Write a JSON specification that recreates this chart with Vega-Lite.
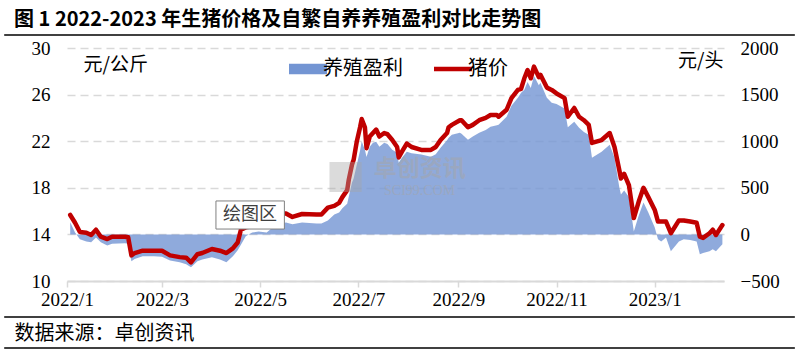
{
  "$schema": "https://vega.github.io/schema/vega-lite/v6.json",
  "width": 657,
  "height": 233,
  "autosize": "none",
  "padding": {"left": 67, "top": 48, "right": 74, "bottom": 74},
  "background": "white",
  "title": {"text": "图 1 2022-2023 年生猪价格及自繁自养养殖盈利对比走势图", "anchor": "start", "frame": "group", "dx": -53, "offset": 4, "fontSize": 20, "fontWeight": "bold", "font": "Noto Sans CJK SC", "color": "#000"},
  "config": {"view": {"stroke": null}},
  "data": {"values": [
    {"d":"2022-01-03","p":15.67,"m":130},{"d":"2022-01-06","p":15.0,"m":20},{"d":"2022-01-09","p":14.2,"m":-53},{"d":"2022-01-13","p":14.15,"m":-75},{"d":"2022-01-16","p":13.95,"m":-85},{"d":"2022-01-19","p":14.4,"m":-32},{"d":"2022-01-22","p":13.8,"m":-85},{"d":"2022-01-26","p":13.6,"m":-118},{"d":"2022-01-29","p":13.8,"m":-100},{"d":"2022-02-06","p":13.8,"m":-96},{"d":"2022-02-08","p":13.75,"m":-100},{"d":"2022-02-10","p":12.2,"m":-289},{"d":"2022-02-12","p":12.4,"m":-265},{"d":"2022-02-17","p":12.6,"m":-235},{"d":"2022-02-24","p":12.6,"m":-235},
    {"d":"2022-03-01","p":12.6,"m":-240},{"d":"2022-03-06","p":12.2,"m":-280},{"d":"2022-03-12","p":12.05,"m":-300},{"d":"2022-03-16","p":12.0,"m":-321},{"d":"2022-03-19","p":11.6,"m":-353},{"d":"2022-03-23","p":12.3,"m":-289},{"d":"2022-03-26","p":12.4,"m":-270},{"d":"2022-04-01","p":12.75,"m":-246},{"d":"2022-04-06","p":12.6,"m":-270},{"d":"2022-04-10","p":12.4,"m":-300},{"d":"2022-04-14","p":12.8,"m":-235},{"d":"2022-04-17","p":13.3,"m":-170},{"d":"2022-04-19","p":14.4,"m":-110},{"d":"2022-04-22","p":14.6,"m":-21},{"d":"2022-04-26","p":14.7,"m":21},{"d":"2022-04-30","p":14.9,"m":30},
    {"d":"2022-05-05","p":15.2,"m":21},{"d":"2022-05-11","p":15.8,"m":107},{"d":"2022-05-17","p":15.8,"m":128},{"d":"2022-05-21","p":15.5,"m":110},{"d":"2022-05-27","p":15.75,"m":128},{"d":"2022-06-05","p":15.7,"m":118},{"d":"2022-06-08","p":15.7,"m":118},{"d":"2022-06-12","p":16.3,"m":150},{"d":"2022-06-16","p":16.45,"m":214},{"d":"2022-06-19","p":16.7,"m":235},{"d":"2022-06-21","p":17.2,"m":280},{"d":"2022-06-24","p":17.8,"m":330},{"d":"2022-06-25","p":18.7,"m":406},{"d":"2022-06-27","p":20.0,"m":556},{"d":"2022-06-28","p":20.4,"m":600},{"d":"2022-06-30","p":22.0,"m":750},
    {"d":"2022-07-02","p":23.2,"m":900},{"d":"2022-07-03","p":23.9,"m":1000},{"d":"2022-07-05","p":23.2,"m":909},{"d":"2022-07-06","p":21.4,"m":830},{"d":"2022-07-08","p":22.4,"m":941},{"d":"2022-07-10","p":22.7,"m":984},{"d":"2022-07-12","p":23.0,"m":995},{"d":"2022-07-14","p":22.4,"m":941},{"d":"2022-07-17","p":22.7,"m":984},{"d":"2022-07-19","p":22.6,"m":970},{"d":"2022-07-22","p":22.1,"m":909},{"d":"2022-07-25","p":21.5,"m":877},{"d":"2022-07-26","p":20.6,"m":770},{"d":"2022-07-28","p":21.1,"m":823},{"d":"2022-07-31","p":21.8,"m":888},
    {"d":"2022-08-03","p":21.5,"m":870},{"d":"2022-08-09","p":21.25,"m":856},{"d":"2022-08-15","p":21.25,"m":834},{"d":"2022-08-18","p":21.5,"m":860},{"d":"2022-08-21","p":22.1,"m":930},{"d":"2022-08-25","p":22.7,"m":1010},{"d":"2022-08-26","p":23.2,"m":1037},{"d":"2022-08-28","p":23.4,"m":1070},{"d":"2022-09-02","p":23.8,"m":1091},{"d":"2022-09-03","p":23.8,"m":1080},{"d":"2022-09-07","p":23.2,"m":1016},{"d":"2022-09-10","p":23.4,"m":1050},{"d":"2022-09-14","p":23.8,"m":1091},{"d":"2022-09-18","p":24.0,"m":1120},{"d":"2022-09-21","p":24.25,"m":1155},{"d":"2022-09-25","p":24.25,"m":1170},{"d":"2022-09-26","p":24.1,"m":1176},
    {"d":"2022-10-01","p":24.7,"m":1262},{"d":"2022-10-04","p":25.7,"m":1380},{"d":"2022-10-08","p":26.4,"m":1465},{"d":"2022-10-10","p":26.5,"m":1520},{"d":"2022-10-12","p":27.4,"m":1551},{"d":"2022-10-14","p":28.1,"m":1636},{"d":"2022-10-16","p":27.4,"m":1572},{"d":"2022-10-18","p":28.4,"m":1700},{"d":"2022-10-21","p":27.5,"m":1600},{"d":"2022-10-22","p":27.7,"m":1626},{"d":"2022-10-26","p":26.6,"m":1465},{"d":"2022-10-29","p":26.4,"m":1412},
    {"d":"2022-11-01","p":26.1,"m":1400},{"d":"2022-11-06","p":25.7,"m":1350},{"d":"2022-11-08","p":24.1,"m":1150},{"d":"2022-11-12","p":24.85,"m":1209},{"d":"2022-11-15","p":24.1,"m":1144},{"d":"2022-11-18","p":23.8,"m":1100},{"d":"2022-11-21","p":23.4,"m":1070},{"d":"2022-11-23","p":21.85,"m":823},{"d":"2022-11-29","p":22.1,"m":888},
    {"d":"2022-12-04","p":22.7,"m":963},{"d":"2022-12-07","p":21.5,"m":823},{"d":"2022-12-10","p":19.5,"m":503},{"d":"2022-12-11","p":18.8,"m":428},{"d":"2022-12-13","p":19.2,"m":470},{"d":"2022-12-16","p":18.2,"m":400},{"d":"2022-12-19","p":15.4,"m":30},{"d":"2022-12-22","p":16.8,"m":200},{"d":"2022-12-25","p":18.0,"m":342},{"d":"2022-12-28","p":17.2,"m":235},
    {"d":"2023-01-01","p":16.1,"m":75},{"d":"2023-01-03","p":15.1,"m":-53},{"d":"2023-01-05","p":15.1,"m":-75},{"d":"2023-01-08","p":15.1,"m":-32},{"d":"2023-01-11","p":14.1,"m":-182},{"d":"2023-01-16","p":15.2,"m":-75},{"d":"2023-01-19","p":15.2,"m":-53},{"d":"2023-01-23","p":15.1,"m":-60},{"d":"2023-01-27","p":15.0,"m":-75},{"d":"2023-01-29","p":13.8,"m":-214},{"d":"2023-01-31","p":13.7,"m":-200},{"d":"2023-02-04","p":14.1,"m":-182},{"d":"2023-02-06","p":14.4,"m":-160},{"d":"2023-02-08","p":13.95,"m":-182},{"d":"2023-02-12","p":14.8,"m":-107}
  ]},
  "layer": [
    {
      "layer": [
        {
          "mark": {"type": "area", "fillOpacity": 0.8},
          "encoding": {
            "x": {"field": "d", "type": "temporal",
              "scale": {"type": "utc", "domain": [{"year": 2022, "month": 1, "date": 1, "utc": true}, {"year": 2023, "month": 2, "date": 13, "utc": true}]},
              "axis": {
                "values": [{"year": 2022, "month": 1, "date": 1, "utc": true}, {"year": 2022, "month": 3, "date": 1, "utc": true}, {"year": 2022, "month": 5, "date": 1, "utc": true}, {"year": 2022, "month": 7, "date": 1, "utc": true}, {"year": 2022, "month": 9, "date": 1, "utc": true}, {"year": 2022, "month": 11, "date": 1, "utc": true}, {"year": 2023, "month": 1, "date": 1, "utc": true}],
                "labelExpr": "utcFormat(datum.value, '%Y/%-m')",
                "labelFont": "Liberation Serif", "labelFontSize": 19, "labelColor": "#000", "labelPadding": 3, "labelFlush": false, "labelOverlap": false,
                "domainColor": "#d9d9d9", "domainWidth": 2, "tickColor": "#d9d9d9", "tickWidth": 1.5, "tickSize": 6, "grid": false,
                "title": "数据来源：卓创资讯", "titleX": -53, "titleY": 52, "titleAlign": "left", "titleAnchor": "start", "titleBaseline": "middle",
                "titleFont": "Noto Sans CJK SC", "titleFontSize": 20, "titleFontWeight": "normal", "titleColor": "#000"
              }
            },
            "y": {"field": "m", "type": "quantitative",
              "scale": {"domain": [-500, 2000], "nice": false},
              "axis": {
                "orient": "right", "values": [-500, 0, 500, 1000, 1500, 2000], "format": "d", "domain": false, "ticks": false, "grid": false,
                "labelPadding": 16, "labelFont": "Liberation Serif", "labelFontSize": 19, "labelColor": "#000",
                "title": "元/头", "titleAngle": 0, "titleX": -1, "titleY": 12, "titleAlign": "right", "titleBaseline": "middle",
                "titleFont": "Noto Sans CJK SC", "titleFontSize": 19, "titleFontWeight": "normal", "titleColor": "#000"
              }
            },
            "color": {"datum": "养殖盈利", "type": "nominal",
              "scale": {"domain": ["养殖盈利", "猪价"], "range": ["#7395D3", "#C00000"]},
              "legend": {
                "orient": "none", "legendX": 231, "legendY": 11, "direction": "horizontal", "title": null,
                "labelFont": "Noto Sans CJK SC", "labelFontSize": 20, "labelColor": "#000", "labelOffset": 5,
                "symbolSize": 1444, "columnPadding": 22, "symbolOpacity": 1,
                "encode": {"symbols": {"update": {
                  "shape": {"signal": "datum.value === '猪价' ? 'M-1,0L1,0' : 'M-1,-0.28L1,-0.28L1,0.28L-1,0.28Z'"},
                  "fill": {"signal": "datum.value === '猪价' ? 'transparent' : '#8FAADC'"},
                  "stroke": {"signal": "datum.value === '猪价' ? '#C00000' : 'transparent'"},
                  "strokeWidth": {"signal": "datum.value === '猪价' ? 4.5 : 0"},
                  "opacity": {"value": 1}
                }}}
              }
            }
          }
        }
      ]
    },
    {
      "layer": [
        {
          "mark": {"type": "line", "strokeWidth": 4.5, "strokeJoin": "round", "strokeCap": "round"},
          "encoding": {
            "x": {"field": "d", "type": "temporal"},
            "y": {"field": "p", "type": "quantitative",
              "scale": {"domain": [10, 30], "nice": false, "zero": false},
              "axis": {
                "orient": "left", "values": [10, 14, 18, 22, 26, 30], "domain": false, "ticks": false,
                "labelPadding": 17, "labelFont": "Liberation Serif", "labelFontSize": 19, "labelColor": "#000",
                "grid": true, "gridColor": "#d9d9d9", "gridDash": [8, 5], "gridWidth": 1.5,
                "title": "元/公斤", "titleAngle": 0, "titleX": 16, "titleY": 16, "titleAlign": "left", "titleBaseline": "middle",
                "titleFont": "Noto Sans CJK SC", "titleFontSize": 19, "titleFontWeight": "normal", "titleColor": "#000"
              }
            },
            "color": {"datum": "猪价", "type": "nominal"}
          }
        },
        {
          "data": {"values": [{}]},
          "mark": {"type": "rule", "clip": false, "color": "#000", "strokeWidth": 1.5},
          "encoding": {
            "x": {"datum": {"year": 2021, "month": 11, "date": 23, "utc": true}, "type": "temporal"},
            "x2": {"datum": {"year": 2023, "month": 3, "date": 29, "utc": true}},
            "y": {"datum": 31.12, "type": "quantitative"}
          }
        },
        {
          "data": {"values": [{}]},
          "mark": {"type": "rule", "clip": false, "color": "#000", "strokeWidth": 1.5},
          "encoding": {
            "x": {"datum": {"year": 2021, "month": 11, "date": 23, "utc": true}, "type": "temporal"},
            "x2": {"datum": {"year": 2023, "month": 3, "date": 29, "utc": true}},
            "y": {"datum": 6.91, "type": "quantitative"}
          }
        },
        {
          "data": {"values": [{}]},
          "mark": {"type": "rule", "clip": false, "color": "#000", "strokeWidth": 1.5},
          "encoding": {
            "x": {"datum": {"year": 2021, "month": 11, "date": 23, "utc": true}, "type": "temporal"},
            "x2": {"datum": {"year": 2023, "month": 3, "date": 29, "utc": true}},
            "y": {"datum": 4.25, "type": "quantitative"}
          }
        },
        {
          "data": {"values": [{}]},
          "mark": {"type": "rect", "fill": "#a6a6a6", "opacity": 0.4},
          "encoding": {
            "x": {"datum": {"year": 2022, "month": 6, "date": 13, "utc": true}, "type": "temporal"},
            "x2": {"datum": {"year": 2022, "month": 7, "date": 3, "utc": true}},
            "y": {"datum": 20.21, "type": "quantitative"},
            "y2": {"datum": 17.64}
          }
        },
        {
          "data": {"values": [{}]},
          "mark": {"type": "text", "text": "卓创资讯", "font": "Noto Sans CJK SC", "fontSize": 23, "fontWeight": "bold", "fill": "#a6a6a6", "opacity": 0.5, "align": "center", "baseline": "middle"},
          "encoding": {
            "x": {"datum": {"year": 2022, "month": 8, "date": 8, "utc": true}, "type": "temporal"},
            "y": {"datum": 19.65, "type": "quantitative"}
          }
        },
        {
          "data": {"values": [{}]},
          "mark": {"type": "text", "text": "SCI99.COM", "font": "Liberation Serif", "fontSize": 14, "fill": "#a6a6a6", "opacity": 0.5, "align": "center", "baseline": "middle"},
          "encoding": {
            "x": {"datum": {"year": 2022, "month": 8, "date": 8, "utc": true}, "type": "temporal"},
            "y": {"datum": 17.75, "type": "quantitative"}
          }
        },
        {
          "data": {"values": [{}]},
          "mark": {"type": "rect", "fill": "white", "stroke": "#808080", "strokeWidth": 1},
          "encoding": {
            "x": {"datum": {"year": 2022, "month": 4, "date": 3, "hours": 12, "utc": true}, "type": "temporal"},
            "x2": {"datum": {"year": 2022, "month": 5, "date": 16, "utc": true}},
            "y": {"datum": 16.87, "type": "quantitative"},
            "y2": {"datum": 14.46}
          }
        },
        {
          "data": {"values": [{}]},
          "mark": {"type": "text", "text": "绘图区", "font": "Noto Sans CJK SC", "fontSize": 18, "fill": "#404040", "align": "center", "baseline": "middle"},
          "encoding": {
            "x": {"datum": {"year": 2022, "month": 4, "date": 24, "hours": 14, "utc": true}, "type": "temporal"},
            "y": {"datum": 15.67, "type": "quantitative"}
          }
        }
      ]
    }
  ],
  "resolve": {"scale": {"y": "independent"}, "axis": {"y": "independent"}}
}
